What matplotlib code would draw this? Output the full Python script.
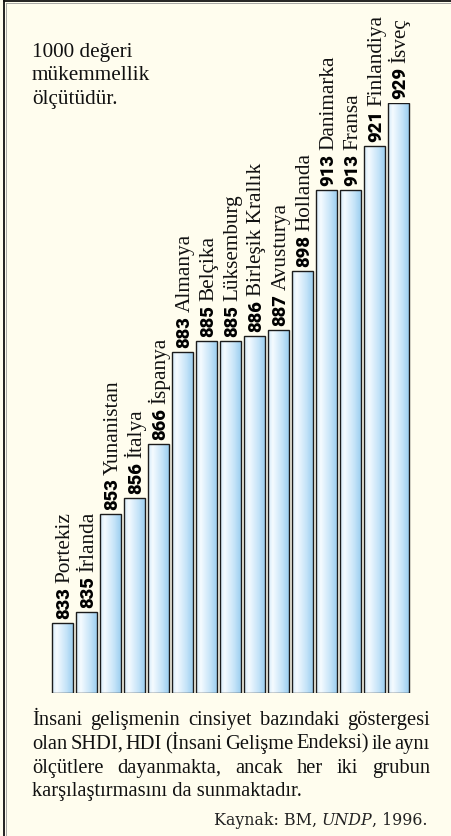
import numpy as np
import matplotlib
matplotlib.use("Agg")
import matplotlib.pyplot as plt
from matplotlib.colors import LinearSegmentedColormap
from matplotlib.lines import Line2D

# ==============================
# Veriler
# ==============================
ulkeler = ["Portekiz", "İrlanda", "Yunanistan", "İtalya", "İspanya",
           "Almanya", "Belçika", "Lüksemburg", "Birleşik Krallık", "Avusturya",
           "Hollanda", "Danimarka", "Fransa", "Finlandiya", "İsveç"]
shdi = [833, 835, 853, 856, 866, 883, 885, 885, 886, 887, 898, 913, 913, 921, 929]

not_satirlari = ["1000 değeri", "mükemmellik", "ölçütüdür."]
aciklama = ["İnsani gelişmenin cinsiyet bazındaki göstergesi",
            "olan SHDI, HDI (İnsani Gelişme Endeksi) ile aynı",
            "ölçütlere dayanmakta, ancak her iki grubun",
            "karşılaştırmasını da sunmaktadır."]
kaynak = ["Kaynak: BM, ", "UNDP", ", 1996."]

# ==============================
# Sayfa
# ==============================
W, H, DPI = 451, 837, 100
BG = "#fffdee"
SERIF = ["Liberation Serif", "DejaVu Serif"]
SANS = ["Roboto", "DejaVu Sans"]
FS_AD = 15.3
FS_METIN = 14.8

fig = plt.figure(figsize=(W / DPI, H / DPI), dpi=DPI, facecolor=BG)
r = fig.canvas.get_renderer()


def fx(px):
    return px / W


def fy(py):
    return 1 - py / H


# cerceve (sol ve ust)
fig.add_artist(Line2D([fx(4), fx(4)], [fy(2), 0], color="#111111", lw=1.3))
fig.add_artist(Line2D([fx(4), 1], [fy(2), fy(2)], color="#111111", lw=1.3))
fig.add_artist(Line2D([fx(5.8), fx(5.8)], [fy(3.5), 0], color="#9a9a9a", lw=0.6))
fig.add_artist(Line2D([fx(5.8), 1], [fy(3.8), fy(3.8)], color="#9a9a9a", lw=0.6))

# ==============================
# Cubuklar
# ==============================
taban = 820
ax = fig.add_axes([fx(50.5), fy(694), fx(410.5) - fx(50.5), fy(104) - fy(694)])
ax.axis("off")

x = np.arange(len(shdi))
cmap = LinearSegmentedColormap.from_list(
    "cubuk", [(0, "#d3eaf9"), (0.22, "#f5fbff"), (0.7, "#c4e3f8"), (1, "#9dcff0")])
grad = np.linspace(0, 1, 64).reshape(1, -1)

bars = ax.bar(x, np.array(shdi) - taban, bottom=taban, width=0.875,
              facecolor="none", edgecolor="#1c1c1c", lw=1.0, zorder=3)
for b in bars:
    x0, y0 = b.get_xy()
    im = ax.imshow(grad, cmap=cmap, aspect="auto", zorder=2,
                   extent=(x0, x0 + b.get_width(), y0, y0 + b.get_height()))
    im.set_clip_path(b)

ax.set_xlim(-0.5, 14.5)
ax.set_ylim(taban, 929)

# etiketler: kalin sayi + ulke adi, dikey
for i, (v, ad) in enumerate(zip(shdi, ulkeler)):
    t = ax.annotate(str(v), xy=(i, v), xytext=(6.8, 5), textcoords="offset pixels",
                    rotation=90, rotation_mode="anchor", ha="left", va="baseline",
                    fontsize=13.2, fontweight="heavy", family=SANS,
                    annotation_clip=False)
    boy = t.get_window_extent(r).height
    ax.annotate(ad, xy=(i, v), xytext=(6.8, 5 + boy + 4), textcoords="offset pixels",
                rotation=90, rotation_mode="anchor", ha="left", va="baseline",
                fontsize=FS_AD, family=SERIF, color="#111111",
                annotation_clip=False)

# ==============================
# Metinler
# ==============================
for k, s in enumerate(not_satirlari):
    fig.text(fx(32), fy(57 + 23.3 * k), s, ha="left", va="baseline",
             fontsize=FS_AD, family=SERIF, color="#111111")

sol, sag = 32, 430
for k, s in enumerate(aciklama):
    yb = fy(725 + 23.8 * k)
    if k == len(aciklama) - 1:
        fig.text(fx(sol), yb, s, ha="left", va="baseline",
                 fontsize=FS_METIN, family=SERIF, color="#111111")
        continue
    kelimeler = s.split(" ")
    parcalar = [fig.text(0, yb, w, ha="left", va="baseline",
                         fontsize=FS_METIN, family=SERIF, color="#111111")
                for w in kelimeler]
    genislik = [p.get_window_extent(r).width for p in parcalar]
    bosluk = (sag - sol - sum(genislik)) / (len(parcalar) - 1)
    xp = sol
    for p, g in zip(parcalar, genislik):
        p.set_x(fx(xp))
        xp += g + bosluk

# kaynak satiri, saga yasli
parcalar = []
for s in kaynak:
    stil = "italic" if s == "UNDP" else "normal"
    parcalar.append(fig.text(0, fy(825), s, ha="left", va="baseline",
                             fontsize=11.4, style=stil, family=["DejaVu Serif"],
                             color="#222222"))
genislik = [p.get_window_extent(r).width for p in parcalar]
xp = 428 - sum(genislik)
for p, g in zip(parcalar, genislik):
    p.set_x(fx(xp))
    xp += g

fig.savefig("out.png", dpi=DPI, facecolor=BG)
